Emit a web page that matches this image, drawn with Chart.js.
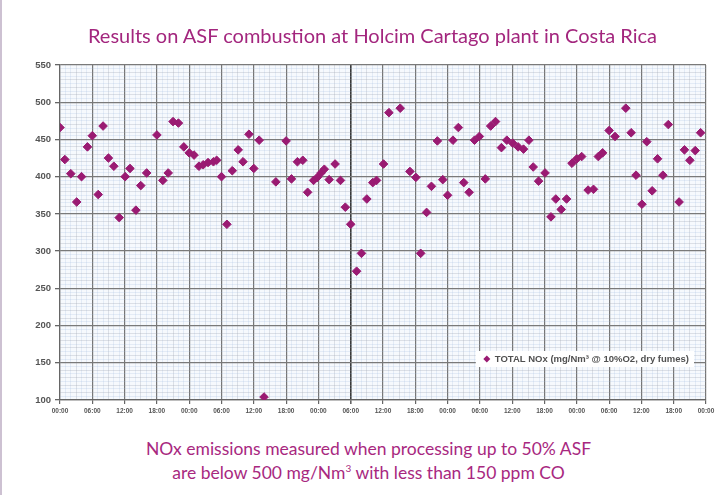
<!DOCTYPE html>
<html>
<head>
<meta charset="utf-8">
<script src="https://cdn.jsdelivr.net/npm/chart.js@4.4.1/dist/chart.umd.min.js"></script>
<style>
  html, body { margin: 0; padding: 0; background: #fff; }
  body { width: 723px; height: 495px; position: relative; overflow: hidden; font-family: Lato, "Open Sans", sans-serif; }
  #edge { position: absolute; left: 0; top: 0; width: 2px; height: 495px; background: #cdc1d2; }
  #title { position: absolute; left: 11px; top: 23px; width: 723px; text-align: center; color: #a3267e; font-size: 20px; line-height: 24px; }
  #box { position: absolute; left: 0; top: 0; width: 723px; height: 432px; }
  #caption { position: absolute; left: 7px; top: 437px; width: 723px; text-align: center; color: #a8287f; font-size: 17.5px; line-height: 24px; }
</style>
</head>
<body>
<div id="edge"></div>
<div id="box"><canvas id="chart"></canvas></div>
<div id="title">Results on ASF combustion at Holcim Cartago plant in Costa Rica</div>
<div id="caption">NOx emissions measured when processing up to 50% ASF<br>are below 500 mg/Nm<sup style="font-size:10px;line-height:0">3</sup> with less than 150 ppm CO</div>
<script>
"use strict";

// hours since the first 00:00
const sampleHours = [
  0, 0.9, 2, 3.1, 4, 5.1, 6, 7.1, 8, 9, 10, 11, 12.1, 13, 14.1, 15, 16.1, 18, 19.1, 20.1,
  21, 22, 23, 24, 24.9, 25.8, 26.6, 27.5, 28.5, 29.1, 30, 31, 32, 33.1, 34, 35.1, 36, 37, 37.9,
  40.1, 42, 43, 44.1, 45.1, 46, 47.1, 47.8, 48.5, 49.1, 50, 51.1, 52.1, 53, 54, 55.1, 56, 57,
  58.1, 58.8, 60.1, 61.1, 63.2, 65, 66.1, 67, 68.1, 69, 70.1, 71.1, 72, 73, 74, 75, 76, 77,
  77.9, 79, 80, 80.9, 82, 83, 84.1, 85.1, 86.1, 87.1, 87.9, 88.9, 90.1, 91.2, 92.1, 93.1, 94.1,
  95.1, 96, 96.9, 98.1, 99.1, 100, 100.8, 102, 103.1, 105.1, 106.1, 107, 108.1, 109, 110, 111,
  112, 113, 115, 116, 117, 118, 119
];
// TOTAL NOx, mg/Nm3 @ 10% O2
const noxValues = [
  466, 423, 404, 366, 400, 440, 455, 376, 468, 425, 414, 345, 400, 411, 355, 388, 405, 456, 395, 405,
  474, 472, 440, 432, 429, 414, 416, 419, 420, 422, 400, 336, 408, 436, 420, 457, 411, 449, 104,
  393, 448, 397, 420, 422, 379, 395, 399, 405, 410, 396, 417, 395, 359, 336, 273, 297, 370,
  392, 395, 417, 486, 492, 407, 399, 297, 352, 387, 448, 396, 375, 449, 466, 392, 379, 449,
  454, 397, 468, 474, 439, 449, 445, 440, 437, 449, 413, 394, 405, 346, 370, 356, 370,
  418, 424, 427, 382, 383, 427, 432, 462, 454, 492, 459, 402, 363, 447, 381, 424,
  402, 470, 366, 436, 422, 435, 459
];
const xTickLabels = [
  "00:00", "06:00", "12:00", "18:00", "00:00", "06:00", "12:00", "18:00", "00:00", "06:00", "12:00",
  "18:00", "00:00", "06:00", "12:00", "18:00", "00:00", "06:00", "12:00", "18:00", "00:00"
];
const yTickValues = [100, 150, 200, 250, 300, 350, 400, 450, 500, 550];
const seriesName = "TOTAL NOx (mg/Nm\u00b3 @ 10%O2, dry fumes)";

const pointColor = "#9a1a72";
const tickFont = "Liberation Sans, Arial, sans-serif";

const plotBackground = {
  id: "plotBackground",
  beforeDraw(chart) {
    const a = chart.chartArea;
    chart.ctx.save();
    chart.ctx.fillStyle = "#f6f9fd";
    chart.ctx.fillRect(a.left, a.top, a.right - a.left, a.bottom - a.top);
    chart.ctx.restore();
  }
};

// legend box sitting inside the plot, lower right
const legendBox = {
  id: "legendBox",
  afterDatasetsDraw(chart) {
    const ctx = chart.ctx;
    const a = chart.chartArea;
    const text = chart.data.datasets[0].label;
    ctx.save();
    ctx.font = "bold 9.5px " + tickFont;
    const w = ctx.measureText(text).width;
    const right = a.right - 12;
    const left = right - w - 24;
    const top = a.bottom - 49;
    const h = 16;
    ctx.fillStyle = "#ffffff";
    ctx.fillRect(left, top, right - left, h);
    const cx = left + 11, cy = top + h / 2;
    ctx.fillStyle = pointColor;
    ctx.beginPath();
    ctx.moveTo(cx, cy - 3.5);
    ctx.lineTo(cx + 3.5, cy);
    ctx.lineTo(cx, cy + 3.5);
    ctx.lineTo(cx - 3.5, cy);
    ctx.closePath();
    ctx.fill();
    ctx.fillStyle = "#505050";
    ctx.textBaseline = "middle";
    ctx.fillText(text, left + 19, cy + 0.5);
    ctx.restore();
  }
};

new Chart(document.getElementById("chart"), {
  type: "scatter",
  data: {
    datasets: [{
      label: seriesName,
      data: sampleHours.map((h, i) => ({ x: h, y: noxValues[i] })),
      pointStyle: "rectRot",
      pointRadius: 4.3,
      pointHoverRadius: 4.3,
      backgroundColor: pointColor,
      borderColor: pointColor,
      borderWidth: 1
    }]
  },
  options: {
    responsive: true,
    maintainAspectRatio: false,
    animation: false,
    layout: { padding: { top: 65, right: 17, left: 0, bottom: 0 } },
    plugins: { legend: { display: false }, tooltip: { enabled: false } },
    scales: {
      x: {
        type: "linear",
        min: 0,
        max: 120,
        afterBuildTicks: s => {
          const t = [];
          for (let h = 0; h <= 120; h++) t.push({ value: h });
          s.ticks = t;
        },
        afterFit: s => { s.height = 32; },
        ticks: {
          autoSkip: false,
          minRotation: 0,
          maxRotation: 0,
          padding: 3,
          color: "#555555",
          font: { family: tickFont, size: 6.5, weight: "bold" },
          callback: v => (v % 6 === 0 ? xTickLabels[v / 6] : "")
        },
        grid: {
          color: c => {
            const v = c.tick.value;
            if (v === 54) return "#3a3a3a";
            if (v % 6 === 0) return "#767676";
            return v % 3 === 0 ? "rgba(150,155,170,0.35)" : "rgba(160,185,225,0.28)";
          },
          lineWidth: c => (c.tick.value % 6 === 0 ? (c.tick.value === 54 ? 1.6 : 1.2) : 0.8),
          tickLength: 4,
          tickColor: c => (c.tick.value % 6 === 0 ? "#666" : "rgba(0,0,0,0)")
        },
        border: { color: "#666", width: 1.2 }
      },
      y: {
        min: 100,
        max: 550,
        afterBuildTicks: s => {
          const t = [];
          for (let v = 100; v <= 550; v += 5) t.push({ value: v });
          s.ticks = t;
        },
        afterFit: s => { s.width = 60; },
        ticks: {
          autoSkip: false,
          padding: 4,
          color: "#555555",
          font: { family: tickFont, size: 9.5, weight: "bold" },
          callback: v => (yTickValues.includes(v) ? String(v) : "")
        },
        grid: {
          color: c => {
            const v = c.tick.value;
            if (v % 50 === 0) return "#7a7a7a";
            return v % 10 === 0 ? "rgba(150,155,170,0.35)" : "rgba(160,185,225,0.28)";
          },
          lineWidth: c => (c.tick.value % 50 === 0 ? 1.3 : 0.8),
          tickLength: 5,
          tickColor: c => (c.tick.value % 50 === 0 ? "#666" : "rgba(0,0,0,0)")
        },
        border: { color: "#666", width: 1.2 }
      }
    }
  },
  plugins: [plotBackground, legendBox]
});
</script>
</body>
</html>
